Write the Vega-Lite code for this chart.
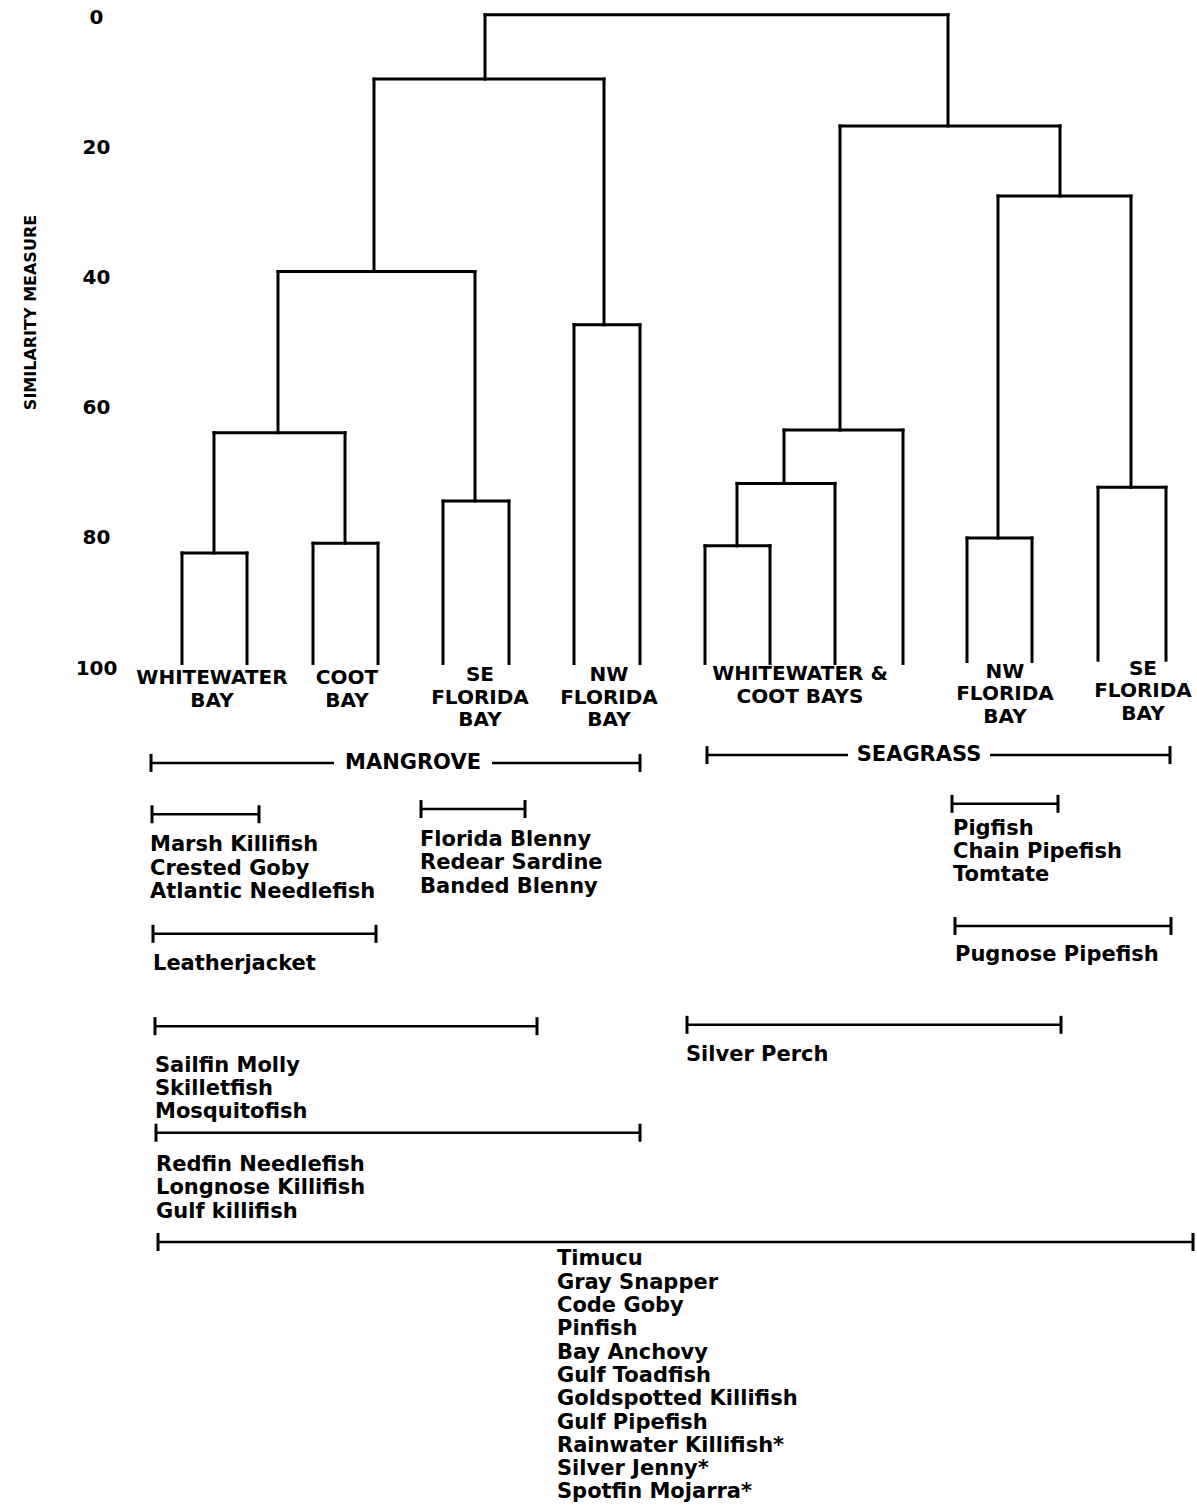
{
  "$schema": "https://vega.github.io/schema/vega-lite/v6.json",
  "width": 1197,
  "height": 1505,
  "autosize": {"type": "none"},
  "padding": 0,
  "background": "white",
  "config": {
    "view": {"stroke": null},
    "font": "DejaVu Sans",
    "axisY": {
      "offset": -118,
      "ticks": false, "tickSize": 0, "domain": false, "grid": false,
      "labelFont": "DejaVu Sans", "labelFontWeight": "bold", "labelFontSize": 20, "labelColor": "black",
      "labelAlign": "center", "labelBaseline": "middle", "labelPadding": 22, "labelFlush": false, "labelOverlap": false,
      "titleFont": "DejaVu Sans", "titleFontWeight": "bold", "titleFontSize": 16, "titleColor": "black",
      "titleAngle": 270, "titleAlign": "center", "titleBaseline": "middle", "titleX": -88, "titleY": 312
    }
  },
  "datasets": {
    "nodes": [
      {"node": "Whitewater Bay (mangrove)", "h": 82.3, "xl": 182, "xr": 247, "yl": 99.3, "yr": 99.3},
      {"node": "Coot Bay (mangrove)", "h": 80.8, "xl": 313, "xr": 378, "yl": 99.3, "yr": 99.3},
      {"node": "Whitewater + Coot (mangrove)", "h": 63.8, "xl": 214, "xr": 345, "yl": 82.3, "yr": 80.8},
      {"node": "SE Florida Bay (mangrove)", "h": 74.3, "xl": 443, "xr": 509, "yl": 99.3, "yr": 99.3},
      {"node": "Mangrove A", "h": 39.0, "xl": 278, "xr": 475, "yl": 63.8, "yr": 74.3},
      {"node": "NW Florida Bay (mangrove)", "h": 47.2, "xl": 574, "xr": 640, "yl": 99.3, "yr": 99.3},
      {"node": "Mangrove", "h": 9.4, "xl": 374, "xr": 604, "yl": 39.0, "yr": 47.2},
      {"node": "Whitewater & Coot Bays (seagrass)", "h": 81.2, "xl": 705, "xr": 770, "yl": 99.3, "yr": 99.3},
      {"node": "Seagrass B", "h": 71.6, "xl": 737, "xr": 835, "yl": 81.2, "yr": 99.3},
      {"node": "Seagrass C", "h": 63.4, "xl": 784, "xr": 903, "yl": 71.6, "yr": 99.3},
      {"node": "NW Florida Bay (seagrass)", "h": 80.0, "xl": 967, "xr": 1032, "yl": 99.0, "yr": 99.0},
      {"node": "SE Florida Bay (seagrass)", "h": 72.2, "xl": 1098, "xr": 1166, "yl": 98.8, "yr": 98.8},
      {"node": "Seagrass D", "h": 27.4, "xl": 998, "xr": 1131, "yl": 80.0, "yr": 72.2},
      {"node": "Seagrass", "h": 16.6, "xl": 840, "xr": 1060, "yl": 63.4, "yr": 27.4},
      {"node": "All", "h": -0.5, "xl": 485, "xr": 948, "yl": 9.4, "yr": 16.6}
    ],
    "leaves": [
      {"label": "WHITEWATER\nBAY", "x": 212, "y": 100.0},
      {"label": "COOT\nBAY", "x": 347, "y": 100.0},
      {"label": "SE\nFLORIDA\nBAY", "x": 480, "y": 99.6},
      {"label": "NW\nFLORIDA\nBAY", "x": 609, "y": 99.6},
      {"label": "WHITEWATER &\nCOOT BAYS", "x": 800, "y": 99.4},
      {"label": "NW\nFLORIDA\nBAY", "x": 1005, "y": 99.0},
      {"label": "SE\nFLORIDA\nBAY", "x": 1143, "y": 98.6}
    ],
    "groups": [
      {"label": "MANGROVE", "from": 151, "to": 640, "gapFrom": 334, "gapTo": 492, "mid": 413, "y": 114.6},
      {"label": "SEAGRASS", "from": 707, "to": 1170, "gapFrom": 848, "gapTo": 990, "mid": 919, "y": 113.4}
    ],
    "species": [
      {"names": "Marsh Killifish\nCrested Goby\nAtlantic Needlefish", "from": 152, "to": 259, "y": 122.5, "tx": 150, "ty": 125.6},
      {"names": "Florida Blenny\nRedear Sardine\nBanded Blenny", "from": 421, "to": 525, "y": 121.7, "tx": 420, "ty": 124.8},
      {"names": "Leatherjacket", "from": 153, "to": 376, "y": 140.9, "tx": 153, "ty": 143.9},
      {"names": "Sailfin Molly\nSkilletfish\nMosquitofish", "from": 155, "to": 537, "y": 155.1, "tx": 155, "ty": 159.5},
      {"names": "Redfin Needlefish\nLongnose Killifish\nGulf killifish", "from": 156, "to": 640, "y": 171.5, "tx": 156, "ty": 174.8},
      {"names": "Timucu\nGray Snapper\nCode Goby\nPinfish\nBay Anchovy\nGulf Toadfish\nGoldspotted Killifish\nGulf Pipefish\nRainwater Killifish*\nSilver Jenny*\nSpotfin Mojarra*", "from": 158, "to": 1193, "y": 188.3, "tx": 557, "ty": 189.3},
      {"names": "Pigfish\nChain Pipefish\nTomtate", "from": 952, "to": 1058, "y": 120.9, "tx": 953, "ty": 123.0},
      {"names": "Pugnose Pipefish", "from": 955, "to": 1171, "y": 139.7, "tx": 955, "ty": 142.4},
      {"names": "Silver Perch", "from": 687, "to": 1061, "y": 154.9, "tx": 686, "ty": 157.9}
    ]
  },
  "layer": [
    {
      "data": {"name": "nodes"},
      "mark": {"type": "rule", "color": "black", "strokeWidth": 3, "strokeCap": "square"},
      "encoding": {
        "x": {"field": "xl", "type": "quantitative", "scale": {"domain": [0, 1197], "nice": false, "zero": false}, "axis": null},
        "x2": {"field": "xr"},
        "y": {"field": "h", "type": "quantitative", "scale": {"domain": [-2.7692, 228.7692], "reverse": true, "nice": false, "zero": false}, "axis": {"values": [0, 20, 40, 60, 80, 100], "title": "SIMILARITY MEASURE"}}
      }
    },
    {
      "data": {"name": "nodes"},
      "mark": {"type": "rule", "color": "black", "strokeWidth": 3, "strokeCap": "square"},
      "encoding": {
        "x": {"field": "xl", "type": "quantitative", "scale": {"domain": [0, 1197], "nice": false, "zero": false}, "axis": null},
        "y": {"field": "h", "type": "quantitative", "scale": {"domain": [-2.7692, 228.7692], "reverse": true, "nice": false, "zero": false}, "axis": {"values": [0, 20, 40, 60, 80, 100], "title": "SIMILARITY MEASURE"}},
        "y2": {"field": "yl"}
      }
    },
    {
      "data": {"name": "nodes"},
      "mark": {"type": "rule", "color": "black", "strokeWidth": 3, "strokeCap": "square"},
      "encoding": {
        "x": {"field": "xr", "type": "quantitative", "scale": {"domain": [0, 1197], "nice": false, "zero": false}, "axis": null},
        "y": {"field": "h", "type": "quantitative", "scale": {"domain": [-2.7692, 228.7692], "reverse": true, "nice": false, "zero": false}, "axis": {"values": [0, 20, 40, 60, 80, 100], "title": "SIMILARITY MEASURE"}},
        "y2": {"field": "yr"}
      }
    },
    {
      "data": {"name": "leaves"},
      "mark": {"type": "text", "color": "black", "font": "DejaVu Sans", "fontWeight": "bold", "fontSize": 20, "align": "center", "baseline": "top", "lineBreak": "\n", "lineHeight": 22.5},
      "encoding": {
        "x": {"field": "x", "type": "quantitative", "scale": {"domain": [0, 1197], "nice": false, "zero": false}, "axis": null},
        "y": {"field": "y", "type": "quantitative", "scale": {"domain": [-2.7692, 228.7692], "reverse": true, "nice": false, "zero": false}, "axis": {"values": [0, 20, 40, 60, 80, 100], "title": "SIMILARITY MEASURE"}},
        "text": {"field": "label", "type": "nominal"}
      }
    },
    {
      "data": {"name": "groups"},
      "mark": {"type": "rule", "color": "black", "strokeWidth": 2.5},
      "encoding": {
        "x": {"field": "from", "type": "quantitative", "scale": {"domain": [0, 1197], "nice": false, "zero": false}, "axis": null},
        "x2": {"field": "gapFrom"},
        "y": {"field": "y", "type": "quantitative", "scale": {"domain": [-2.7692, 228.7692], "reverse": true, "nice": false, "zero": false}, "axis": {"values": [0, 20, 40, 60, 80, 100], "title": "SIMILARITY MEASURE"}}
      }
    },
    {
      "data": {"name": "groups"},
      "mark": {"type": "rule", "color": "black", "strokeWidth": 2.5},
      "encoding": {
        "x": {"field": "gapTo", "type": "quantitative", "scale": {"domain": [0, 1197], "nice": false, "zero": false}, "axis": null},
        "x2": {"field": "to"},
        "y": {"field": "y", "type": "quantitative", "scale": {"domain": [-2.7692, 228.7692], "reverse": true, "nice": false, "zero": false}, "axis": {"values": [0, 20, 40, 60, 80, 100], "title": "SIMILARITY MEASURE"}}
      }
    },
    {
      "data": {"name": "groups"},
      "mark": {"type": "tick", "orient": "vertical", "color": "black", "opacity": 1, "thickness": 3, "size": 18},
      "encoding": {
        "x": {"field": "from", "type": "quantitative", "scale": {"domain": [0, 1197], "nice": false, "zero": false}, "axis": null},
        "y": {"field": "y", "type": "quantitative", "scale": {"domain": [-2.7692, 228.7692], "reverse": true, "nice": false, "zero": false}, "axis": {"values": [0, 20, 40, 60, 80, 100], "title": "SIMILARITY MEASURE"}}
      }
    },
    {
      "data": {"name": "groups"},
      "mark": {"type": "tick", "orient": "vertical", "color": "black", "opacity": 1, "thickness": 3, "size": 18},
      "encoding": {
        "x": {"field": "to", "type": "quantitative", "scale": {"domain": [0, 1197], "nice": false, "zero": false}, "axis": null},
        "y": {"field": "y", "type": "quantitative", "scale": {"domain": [-2.7692, 228.7692], "reverse": true, "nice": false, "zero": false}, "axis": {"values": [0, 20, 40, 60, 80, 100], "title": "SIMILARITY MEASURE"}}
      }
    },
    {
      "data": {"name": "groups"},
      "mark": {"type": "text", "color": "black", "font": "DejaVu Sans", "fontWeight": "bold", "fontSize": 21, "align": "center", "baseline": "middle"},
      "encoding": {
        "x": {"field": "mid", "type": "quantitative", "scale": {"domain": [0, 1197], "nice": false, "zero": false}, "axis": null},
        "y": {"field": "y", "type": "quantitative", "scale": {"domain": [-2.7692, 228.7692], "reverse": true, "nice": false, "zero": false}, "axis": {"values": [0, 20, 40, 60, 80, 100], "title": "SIMILARITY MEASURE"}},
        "text": {"field": "label", "type": "nominal"}
      }
    },
    {
      "data": {"name": "species"},
      "mark": {"type": "rule", "color": "black", "strokeWidth": 2.5},
      "encoding": {
        "x": {"field": "from", "type": "quantitative", "scale": {"domain": [0, 1197], "nice": false, "zero": false}, "axis": null},
        "x2": {"field": "to"},
        "y": {"field": "y", "type": "quantitative", "scale": {"domain": [-2.7692, 228.7692], "reverse": true, "nice": false, "zero": false}, "axis": {"values": [0, 20, 40, 60, 80, 100], "title": "SIMILARITY MEASURE"}}
      }
    },
    {
      "data": {"name": "species"},
      "mark": {"type": "tick", "orient": "vertical", "color": "black", "opacity": 1, "thickness": 3, "size": 18},
      "encoding": {
        "x": {"field": "from", "type": "quantitative", "scale": {"domain": [0, 1197], "nice": false, "zero": false}, "axis": null},
        "y": {"field": "y", "type": "quantitative", "scale": {"domain": [-2.7692, 228.7692], "reverse": true, "nice": false, "zero": false}, "axis": {"values": [0, 20, 40, 60, 80, 100], "title": "SIMILARITY MEASURE"}}
      }
    },
    {
      "data": {"name": "species"},
      "mark": {"type": "tick", "orient": "vertical", "color": "black", "opacity": 1, "thickness": 3, "size": 18},
      "encoding": {
        "x": {"field": "to", "type": "quantitative", "scale": {"domain": [0, 1197], "nice": false, "zero": false}, "axis": null},
        "y": {"field": "y", "type": "quantitative", "scale": {"domain": [-2.7692, 228.7692], "reverse": true, "nice": false, "zero": false}, "axis": {"values": [0, 20, 40, 60, 80, 100], "title": "SIMILARITY MEASURE"}}
      }
    },
    {
      "data": {"name": "species"},
      "mark": {"type": "text", "color": "black", "font": "DejaVu Sans", "fontWeight": "bold", "fontSize": 21, "align": "left", "baseline": "top", "lineBreak": "\n", "lineHeight": 23.3},
      "encoding": {
        "x": {"field": "tx", "type": "quantitative", "scale": {"domain": [0, 1197], "nice": false, "zero": false}, "axis": null},
        "y": {"field": "ty", "type": "quantitative", "scale": {"domain": [-2.7692, 228.7692], "reverse": true, "nice": false, "zero": false}, "axis": {"values": [0, 20, 40, 60, 80, 100], "title": "SIMILARITY MEASURE"}},
        "text": {"field": "names", "type": "nominal"}
      }
    }
  ]
}
